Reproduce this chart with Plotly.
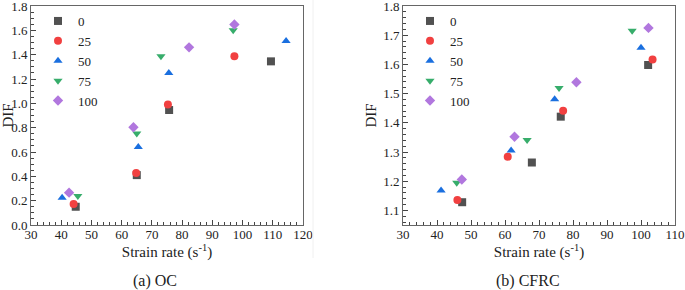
import plotly.graph_objects as go

# ---------------- data ----------------
series_names = ["0", "25", "50", "75", "100"]

# (a) OC
oc_x_0 = [44.8, 65.0, 75.7, 109.4]
oc_y_0 = [0.15, 0.41, 0.945, 1.345]
oc_x_25 = [44.1, 64.8, 75.3, 97.3]
oc_y_25 = [0.173, 0.428, 0.99, 1.388]
oc_x_50 = [40.3, 65.5, 75.6, 114.4]
oc_y_50 = [0.225, 0.642, 1.25, 1.512]
oc_x_75 = [45.5, 65.0, 73.0, 96.9]
oc_y_75 = [0.239, 0.752, 1.388, 1.60]
oc_x_100 = [42.6, 63.9, 82.3, 97.3]
oc_y_100 = [0.266, 0.804, 1.46, 1.648]

# (b) CFRC
cf_x_0 = [47.4, 67.9, 76.4, 102.1]
cf_y_0 = [1.128, 1.264, 1.421, 1.598]
cf_x_25 = [46.0, 60.8, 77.1, 103.4]
cf_y_25 = [1.136, 1.284, 1.441, 1.617]
cf_x_50 = [41.2, 61.8, 74.6, 100.0]
cf_y_50 = [1.168, 1.305, 1.481, 1.657]
cf_x_75 = [45.8, 66.5, 75.9, 97.4]
cf_y_75 = [1.195, 1.341, 1.519, 1.715]
cf_x_100 = [47.3, 62.8, 81.0, 102.2]
cf_y_100 = [1.206, 1.352, 1.539, 1.725]

colors = ["#515151", "#F14040", "#1A6FDF", "#37AD6B", "#B177DE"]
symbols = ["square", "circle", "triangle-up", "triangle-down", "diamond"]

oc_x = [oc_x_0, oc_x_25, oc_x_50, oc_x_75, oc_x_100]
oc_y = [oc_y_0, oc_y_25, oc_y_50, oc_y_75, oc_y_100]
cf_x = [cf_x_0, cf_x_25, cf_x_50, cf_x_75, cf_x_100]
cf_y = [cf_y_0, cf_y_25, cf_y_50, cf_y_75, cf_y_100]

FONT = "Liberation Serif"
W, H = 685, 290

fig = go.Figure()
for i, name in enumerate(series_names):
    fig.add_trace(go.Scatter(
        x=oc_x[i], y=oc_y[i], mode="markers", name=name,
        marker=dict(symbol=symbols[i], color=colors[i], size=8, line=dict(width=0)),
        xaxis="x", yaxis="y", legend="legend"))
for i, name in enumerate(series_names):
    fig.add_trace(go.Scatter(
        x=cf_x[i], y=cf_y[i], mode="markers", name=name,
        marker=dict(symbol=symbols[i], color=colors[i], size=8, line=dict(width=0)),
        xaxis="x2", yaxis="y2", legend="legend2"))

ydom = [1 - 225 / H, 1 - 6 / H]
axis_common = dict(
    showgrid=False, zeroline=False, showline=True, linecolor="#666666", linewidth=1,
    mirror=True, ticks="inside", ticklen=5, tickwidth=1, tickcolor="#444444",
    tickfont=dict(family=FONT, size=13, color="#222222"), automargin=False,
    ticklabeloverflow="allow",
    minor=dict(ticks="inside", ticklen=3, tickwidth=1, tickcolor="#444444"),
)
title_font = dict(family=FONT, size=15, color="#222222")

fig.update_layout(
    width=W, height=H, margin=dict(l=0, r=0, t=0, b=0),
    paper_bgcolor="white", plot_bgcolor="white",
    font=dict(family=FONT, color="#222222"),
    xaxis=dict(domain=[31 / W, 303 / W], anchor="y", range=[30, 120], dtick=10,
               ticklabelstandoff=-3,
               title=dict(text="Strain rate (s<sup>-1</sup>)", font=title_font, standoff=0),
               **axis_common),
    yaxis=dict(domain=ydom, anchor="x", range=[0, 1.8], dtick=0.2, tickformat=".1f",
               title=dict(text="DIF", font=title_font, standoff=2), **axis_common),
    xaxis2=dict(domain=[403 / W, 675 / W], anchor="y2", range=[30, 110], dtick=10,
                ticklabelstandoff=-3,
                title=dict(text="Strain rate (s<sup>-1</sup>)", font=title_font, standoff=0),
                **axis_common),
    yaxis2=dict(domain=ydom, anchor="x2", range=[1.05, 1.8], dtick=0.1, tickformat=".1f",
                title=dict(text="DIF", font=title_font, standoff=2), **axis_common),
    legend=dict(x=38 / W, y=1 - 6 / H, xanchor="left", yanchor="top",
                bgcolor="rgba(0,0,0,0)", font=dict(family=FONT, size=13, color="#222222"),
                itemwidth=30, tracegroupgap=0),
    legend2=dict(x=410 / W, y=1 - 6 / H, xanchor="left", yanchor="top",
                 bgcolor="rgba(0,0,0,0)", font=dict(family=FONT, size=13, color="#222222"),
                 itemwidth=30, tracegroupgap=0),
    shapes=[
        dict(type="line", xref="paper", yref="paper", x0=313 / W, x1=313 / W,
             y0=1 - 258 / H, y1=1, line=dict(color="#f0f0f0", width=1)),
    ],
    annotations=[
        dict(text="(a) OC", x=155 / W, y=1 - 281 / H, xref="paper", yref="paper",
             xanchor="center", yanchor="middle",
             showarrow=False, font=dict(family=FONT, size=16, color="#222222")),
        dict(text="(b) CFRC", x=528 / W, y=1 - 281 / H, xref="paper", yref="paper",
             xanchor="center", yanchor="middle",
             showarrow=False, font=dict(family=FONT, size=16, color="#222222")),
    ],
)

fig.write_html(
    "out.html",
    config={"displayModeBar": False},
    post_script="document.body.style.margin='0';document.body.style.padding='0';",
)
